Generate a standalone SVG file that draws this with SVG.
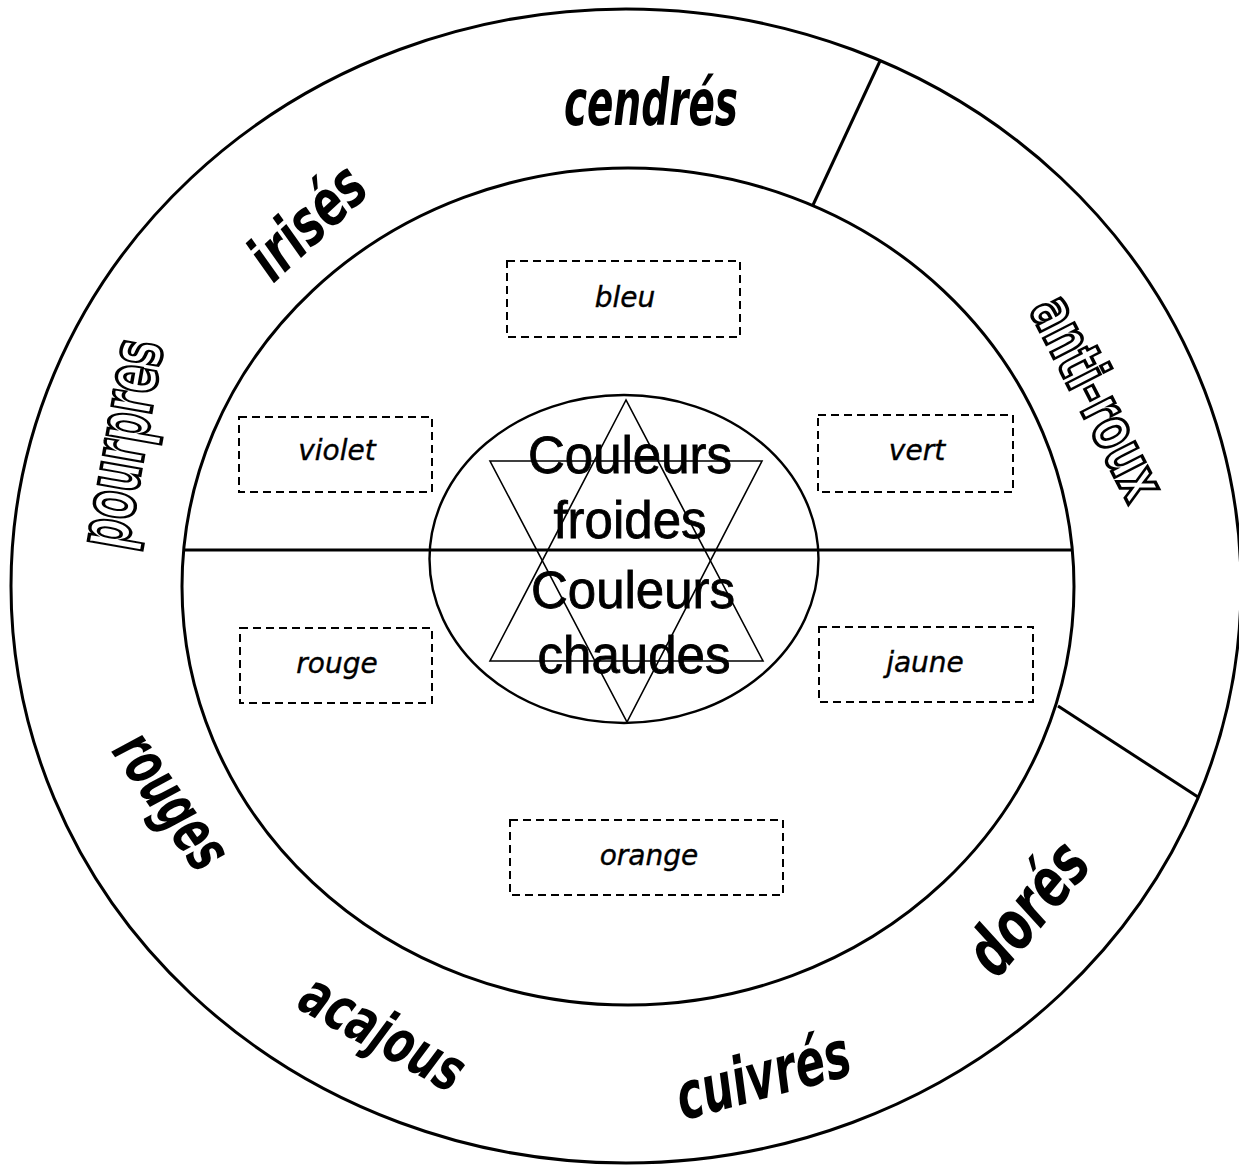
<svg xmlns="http://www.w3.org/2000/svg" width="1239" height="1168" viewBox="0 0 1239 1168">
<style>
.ring{fill:none;stroke:#000;stroke-width:3}
.thin{fill:none;stroke:#000;stroke-width:1.6}
.box{fill:none;stroke:#000;stroke-width:2;stroke-dasharray:8 5}
.bt{font-family:"DejaVu Sans",sans-serif;font-style:oblique;font-size:28px;fill:#000;stroke:#000;stroke-width:0.4;text-anchor:middle}
.rl{font-family:"DejaVu Sans",sans-serif;font-style:oblique;font-weight:bold;fill:#000;text-anchor:middle}
.ol{font-family:"DejaVu Sans",sans-serif;font-weight:bold;fill:#fff;stroke:#000;stroke-width:3.5;text-anchor:middle}
.ct{font-family:"Liberation Sans",Arial,sans-serif;font-size:51px;fill:#000;stroke:#000;stroke-width:0.8;text-anchor:middle}
</style>
<rect width="1239" height="1168" fill="#fff"/>
<g id="rings">
<ellipse class="ring" cx="626" cy="586" rx="615" ry="577"/>
<ellipse class="ring" cx="628" cy="586.5" rx="446" ry="418.5"/>
</g>
<g id="connectors">
<line class="ring" x1="184" y1="550" x2="1072" y2="550"/>
<line class="ring" x1="813" y1="205" x2="880" y2="61"/>
<line class="ring" x1="1058" y1="706" x2="1198" y2="797"/>
</g>
<g id="center">
<ellipse fill="none" stroke="#000" stroke-width="2.4" cx="624" cy="559" rx="194.5" ry="164"/>
<polygon class="thin" points="490,461 762,461 627,722"/>
<polygon class="thin" points="626,400 490,661 763,661"/>
<text class="ct" x="630" y="473">Couleurs</text>
<text class="ct" x="630" y="538">froides</text>
<text class="ct" x="633" y="608">Couleurs</text>
<text class="ct" x="634" y="673">chaudes</text>
</g>
<g id="box-bleu"><rect class="box" x="507" y="261" width="233" height="76"/><text class="bt" x="625" y="307">bleu</text></g>
<g id="box-violet"><rect class="box" x="239" y="417" width="193" height="75"/><text class="bt" x="337" y="460">violet</text></g>
<g id="box-vert"><rect class="box" x="818" y="415" width="195" height="77"/><text class="bt" x="917" y="460">vert</text></g>
<g id="box-rouge"><rect class="box" x="240" y="628" width="192" height="75"/><text class="bt" x="337" y="673">rouge</text></g>
<g id="box-jaune"><rect class="box" x="819" y="627" width="214" height="75"/><text class="bt" x="925" y="672">jaune</text></g>
<g id="box-orange"><rect class="box" x="510" y="820" width="273" height="75"/><text class="bt" x="649" y="865">orange</text></g>
<g id="label-cendres"><text class="rl" x="651" y="125" font-size="64" textLength="174" lengthAdjust="spacingAndGlyphs">cendrés</text></g>
<g id="label-irises" transform="translate(310,225) rotate(-43)"><text class="rl" x="0" y="18" font-size="64" textLength="135" lengthAdjust="spacingAndGlyphs">irisés</text></g>
<g id="label-pourpres" transform="translate(129,445) rotate(-80)"><text class="ol" x="0" y="16" font-size="72" textLength="210" lengthAdjust="spacingAndGlyphs">pourpres</text></g>
<g id="label-anti-roux" transform="translate(1095,399) rotate(63)"><text class="ol" x="0" y="18" font-size="62" textLength="220" lengthAdjust="spacingAndGlyphs">anti-roux</text></g>
<g id="label-rouges" transform="translate(164,806) rotate(55)"><text class="rl" x="0" y="12" font-size="64" textLength="152" lengthAdjust="spacingAndGlyphs">rouges</text></g>
<g id="label-acajous" transform="translate(379,1040) rotate(29)"><text class="rl" x="0" y="12" font-size="60" textLength="178" lengthAdjust="spacingAndGlyphs">acajous</text></g>
<g id="label-cuivres" transform="translate(764,1080) rotate(-15)"><text class="rl" x="0" y="18" font-size="66" textLength="178" lengthAdjust="spacingAndGlyphs">cuivrés</text></g>
<g id="label-dores" transform="translate(1030,910) rotate(-50)"><text class="rl" x="0" y="20" font-size="68" textLength="150" lengthAdjust="spacingAndGlyphs">dorés</text></g>
</svg>
